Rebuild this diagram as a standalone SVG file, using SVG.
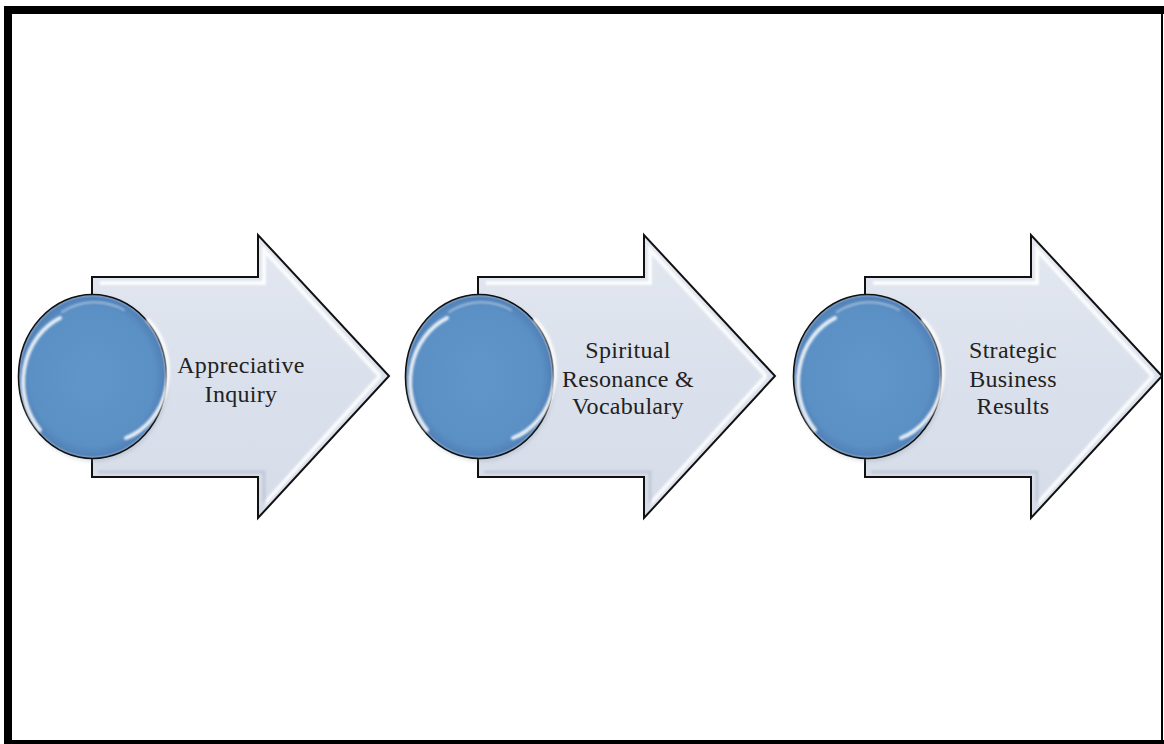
<svg xmlns="http://www.w3.org/2000/svg" width="1164" height="744" viewBox="0 0 1164 744">
  <defs>
    <linearGradient id="arrowFill" x1="0" y1="0" x2="0" y2="1">
      <stop offset="0" stop-color="#e2e7f0"/>
      <stop offset="0.5" stop-color="#dbe1ec"/>
      <stop offset="1" stop-color="#d6dce8"/>
    </linearGradient>
    <radialGradient id="ballFill" cx="0.5" cy="0.5" r="0.5">
      <stop offset="0" stop-color="#6096ca"/>
      <stop offset="0.85" stop-color="#5b90c5"/>
      <stop offset="0.96" stop-color="#5282b8"/>
      <stop offset="1" stop-color="#8fabcd"/>
    </radialGradient>
    <filter id="soft" x="-20%" y="-20%" width="140%" height="140%">
      <feGaussianBlur stdDeviation="1.2"/>
    </filter>
    <filter id="shadow" x="-20%" y="-20%" width="140%" height="140%">
      <feGaussianBlur stdDeviation="2"/>
    </filter>
    <g id="arrowShape">
      <polygon class="arrow" points="92,277 258,277 258,235 389,376 258,518 258,477 92,477"/>
      <path class="bevel" d="M100,283 L264,283 L264,250 L380,376 M264,504 L380,376" filter="url(#soft)"/>
      <path class="bevelDark" d="M264,504 L264,472 L98,472" filter="url(#soft)"/>
    </g>
    <g id="ball">
      <ellipse cx="94" cy="379" rx="74" ry="82" fill="#7f8ea3" opacity="0.3" filter="url(#shadow)"/>
      <ellipse class="ball" cx="92.5" cy="376.5" rx="74" ry="82"/>
      <path class="shine" d="M40,430 A62,70 0 0 1 60,318" filter="url(#soft)"/>
      <path class="shine" d="M148,320 A62,70 0 0 1 126,438" filter="url(#soft)"/>
      <path class="shine2" d="M62,312 A66,74 0 0 1 124,310" filter="url(#soft)"/>
    </g>
  </defs>
  <style>
    .arrow { fill: url(#arrowFill); stroke: #111; stroke-width: 2; stroke-linejoin: miter; }
    .bevel { fill: none; stroke: #ffffff; stroke-width: 4; opacity: 0.9; }
    .bevelDark { fill: none; stroke: #b9c1cf; stroke-width: 3; opacity: 0.7; }
    .ball { fill: url(#ballFill); stroke: #111; stroke-width: 1.6; }
    .shine { fill: none; stroke: #ffffff; stroke-width: 4; stroke-linecap: round; opacity: 0.85; }
    .shine2 { fill: none; stroke: #ffffff; stroke-width: 2; stroke-linecap: round; opacity: 0.45; }
    .label { font-family: "Liberation Serif", "DejaVu Serif", serif; font-size: 24px; fill: #222; text-anchor: middle; letter-spacing: 0.3px; }
  </style>

  <rect x="0" y="0" width="1164" height="744" fill="#ffffff"/>
  <!-- frame -->
  <rect x="4" y="6" width="1160" height="8" fill="#000"/>
  <rect x="4" y="6" width="8" height="738" fill="#000"/>
  <rect x="4" y="740" width="1160" height="4" fill="#000"/>
  <rect x="1161" y="6" width="2" height="738" fill="#000"/>

  <g id="connectors"></g>

  <g id="step1">
    <use href="#arrowShape"/>
    <use href="#ball"/>
    <text class="label" x="241" y="373">Appreciative</text>
    <text class="label" x="241" y="402">Inquiry</text>
  </g>

  <g id="step2" transform="translate(386,0)">
    <use href="#arrowShape"/>
    <use href="#ball" transform="translate(1,0)"/>
  </g>
  <g id="step2-label">
    <text class="label" x="628" y="358">Spiritual</text>
    <text class="label" x="628" y="387">Resonance &amp;</text>
    <text class="label" x="628" y="414">Vocabulary</text>
  </g>

  <g id="step3" transform="translate(773,0)">
    <use href="#arrowShape"/>
    <use href="#ball" transform="translate(2,0)"/>
  </g>
  <g id="step3-label">
    <text class="label" x="1013" y="358">Strategic</text>
    <text class="label" x="1013" y="387">Business</text>
    <text class="label" x="1013" y="414">Results</text>
  </g>
</svg>
